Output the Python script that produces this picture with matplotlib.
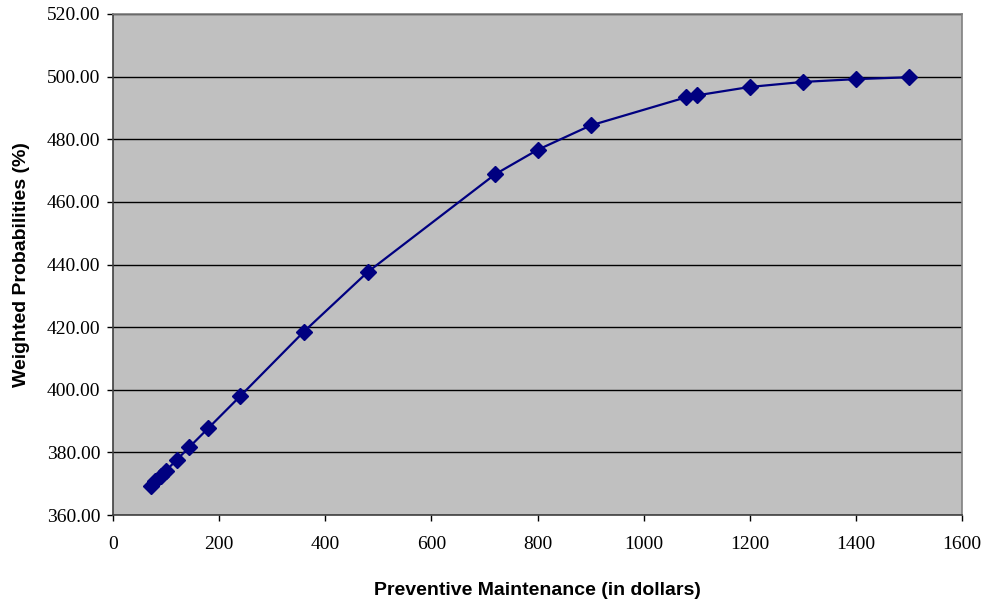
import matplotlib.pyplot as plt
from matplotlib.ticker import FormatStrFormatter

# Preventive maintenance spend vs weighted probability
maintenance = [72, 80, 90, 100, 120, 144, 180, 240, 360, 480, 720, 800, 900,
               1080, 1100, 1200, 1300, 1400, 1500]
weighted_prob = [369.2, 370.8, 372.5, 374.2, 377.6, 381.7, 387.8, 398.0, 418.6,
                 437.6, 468.8, 476.6, 484.4, 493.4, 494.0, 496.7, 498.3, 499.2, 499.8]

navy = '#000080'

fig = plt.figure(figsize=(9.85, 6.03), dpi=100)
ax = fig.add_axes([0.1147, 0.1459, 0.862, 0.8309])
ax.set_facecolor('#c0c0c0')

ax.plot(maintenance, weighted_prob, color=navy, linewidth=1.6,
        marker='D', markersize=8, markerfacecolor=navy, markeredgecolor=navy, zorder=3)

ax.set_xlim(0, 1600)
ax.set_ylim(360, 520)
ax.set_xticks(range(0, 1601, 200))
ax.set_yticks(range(360, 521, 20))
ax.yaxis.set_major_formatter(FormatStrFormatter('%.2f'))
ax.yaxis.grid(True, color='black', linewidth=1)
ax.set_axisbelow(True)

for side in ['top', 'right']:
    ax.spines[side].set_color('#808080')
for side in ['left', 'bottom']:
    ax.spines[side].set_color('#404040')
for sp in ax.spines.values():
    sp.set_linewidth(1.2)

ax.tick_params(direction='out', length=4, width=1, colors='black')
ax.tick_params(axis='x', pad=11)
ax.tick_params(axis='y', pad=5)
for lbl in ax.get_xticklabels() + ax.get_yticklabels():
    lbl.set_fontfamily('Liberation Serif')
    lbl.set_fontsize(14)

ax.set_xlabel('Preventive Maintenance (in dollars)', fontfamily='Liberation Sans',
              fontweight='bold', fontsize=14, labelpad=21)
ax.set_ylabel('Weighted Probabilities (%)', fontfamily='Liberation Sans',
              fontweight='bold', fontsize=14, labelpad=12)

fig.savefig('out.png', dpi=100)
